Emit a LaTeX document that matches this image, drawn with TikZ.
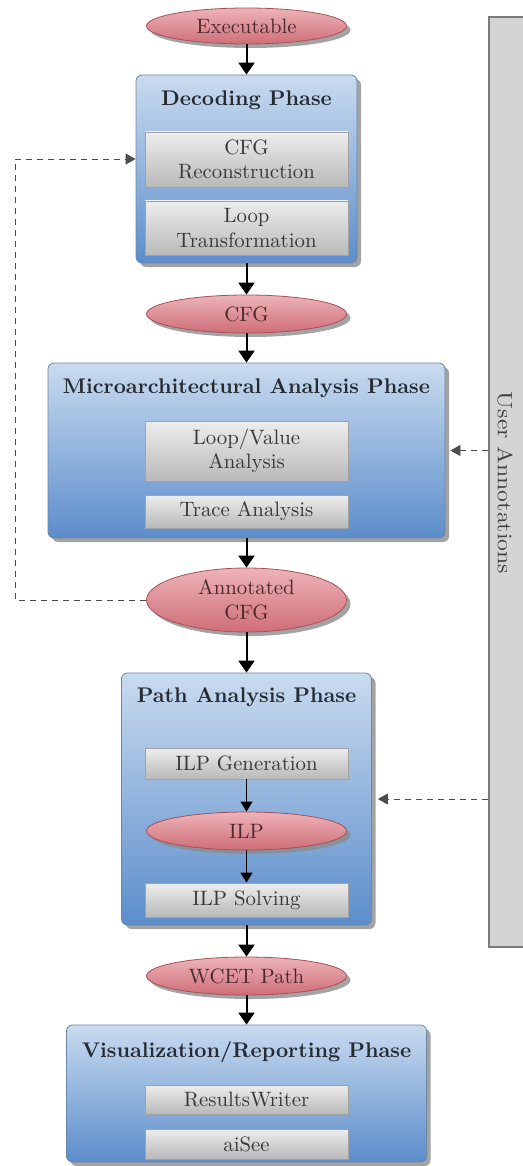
\documentclass[tikz,border=0pt]{standalone}
\usetikzlibrary{shapes.geometric,shadows,arrows.meta,calc}
\definecolor{ellTop}{HTML}{EDB3B8}
\definecolor{ellBot}{HTML}{CF6E78}
\definecolor{ellBorder}{HTML}{A8505A}
\definecolor{ellText}{HTML}{4A2A2C}
\definecolor{phTop}{HTML}{C9DBEF}
\definecolor{phBot}{HTML}{5C8DCB}
\definecolor{phBorder}{HTML}{6C86A6}
\definecolor{inTop}{HTML}{EDEDED}
\definecolor{inBot}{HTML}{B9B9B9}
\definecolor{inBorder}{HTML}{A2A2A2}
\definecolor{panelFill}{HTML}{D4D4D4}
\definecolor{panelBorder}{HTML}{7A7A7A}
\definecolor{txt}{HTML}{262A33}
\tikzset{
  every node/.style={font=\fontsize{10.4}{12.3}\selectfont},
  dataell/.style={ellipse, draw=ellBorder, line width=0.4pt, top color=ellTop, bottom color=ellBot,
     minimum width=100pt, inner sep=0pt, text=ellText, align=center,
     drop shadow={shadow xshift=2pt, shadow yshift=-2pt, fill=black!45, opacity=0.8}},
  phasebox/.style={rectangle, rounded corners=3pt, draw=phBorder, line width=0.4pt, top color=phTop, bottom color=phBot,
     inner sep=0pt,
     drop shadow={shadow xshift=2pt, shadow yshift=-2pt, fill=black!45, opacity=0.8}},
  phasetitle/.style={font=\fontsize{10.6}{12.6}\selectfont\bfseries, text=txt, inner sep=0pt},
  toolbox/.style={rectangle, draw=inBorder, line width=0.4pt, top color=inTop, bottom color=inBot,
     minimum width=101.5pt, inner sep=0pt, align=center, text=black!78},
  mainarrow/.style={line width=1pt, -{Triangle[length=6pt,width=8pt]}},
  smallarrow/.style={line width=0.5pt, -{Triangle[length=5pt,width=6pt]}},
  userarrow/.style={line width=0.4pt, black!70, dash pattern=on 3pt off 2.5pt, -{Triangle[length=5pt,width=5.5pt]}},
}
\begin{document}
\begin{tikzpicture}[x=0.5pt,y=-0.5pt]
\useasboundingbox (0,0) rectangle (523,1166);

% User annotations panel
\node[rectangle, draw=panelBorder, line width=0.6pt, fill=panelFill, minimum width=17.5pt, minimum height=465pt, inner sep=0pt] (ua) at (506.5,482) {};
\node[rotate=-90, text=black!75, inner sep=0pt] (uat) at (505,483) {\scalebox{1.14}[1.0]{User Annotations}};

% Executable
\node[dataell, minimum height=18pt] (exe) at (246.5,26) {Executable};

% Decoding phase
\node[phasebox, minimum width=110.5pt, minimum height=94pt] (dec) at (246.5,169) {};
\node[phasetitle] (dect) at (246.5,100) {Decoding Phase};
\node[toolbox, minimum height=27.5pt] (cfgrec) at (246.5,159.5) {CFG\\Reconstruction};
\node[toolbox, minimum height=27pt] (looptr) at (246.5,228) {Loop\\Transformation};

% CFG
\node[dataell, minimum height=19pt] (cfg) at (246.5,314) {CFG};

% Microarchitectural
\node[phasebox, minimum width=198.5pt, minimum height=87.5pt] (micro) at (246.5,450.5) {};
\node[phasetitle] (microt) at (246.5,388) {Microarchitectural Analysis Phase};
\node[toolbox, minimum height=30pt] (lv) at (246.5,451) {Loop/Value\\Analysis};
\node[toolbox, minimum height=16.5pt] (trace) at (246.5,511.5) {Trace Analysis};

% Annotated CFG
\node[dataell, minimum height=32pt] (annot) at (246.5,600) {Annotated\\CFG};

% Path analysis
\node[phasebox, minimum width=125pt, minimum height=126pt] (path) at (246.5,799) {};
\node[phasetitle] (patht) at (246.5,697) {Path Analysis Phase};
\node[toolbox, minimum height=15.5pt] (ilpgen) at (246.5,763.5) {ILP Generation};
\node[dataell, minimum height=19pt] (ilp) at (246.5,831) {ILP};
\node[toolbox, minimum height=17pt] (ilpsolve) at (246.5,900) {ILP Solving};

% WCET path
\node[dataell, minimum height=19pt] (wcet) at (246.5,976) {WCET Path};

% Visualization
\node[phasebox, minimum width=180pt, minimum height=68.5pt] (vis) at (246.5,1093.5) {};
\node[phasetitle] (vist) at (246.5,1052) {Visualization/Reporting Phase};
\node[toolbox, minimum height=14.5pt] (rw) at (246.5,1099.5) {ResultsWriter};
\node[toolbox, minimum height=15pt] (aisee) at (246.5,1144) {aiSee};

% main arrows
\draw[mainarrow] (exe) -- (dec);
\draw[mainarrow] (dec) -- (cfg);
\draw[mainarrow] (cfg) -- (micro);
\draw[mainarrow] (micro) -- (annot);
\draw[mainarrow] (annot) -- (path);
\draw[mainarrow] (path) -- (wcet);
\draw[mainarrow] (wcet) -- (vis);
\draw[smallarrow] (ilpgen) -- (ilp);
\draw[smallarrow] (ilp) -- (ilpsolve);

% feedback dashed
\coordinate (lt) at (15,159);
\draw[userarrow] (annot.west) -| (lt) -- (lt -| dec.west);

% user annotation arrows
\draw[userarrow] (ua.west |- micro.east) -- ([xshift=2.5pt]micro.east);
\draw[userarrow] (ua.west |- path.east) -- ([xshift=3pt]path.east);
\end{tikzpicture}
\end{document}
